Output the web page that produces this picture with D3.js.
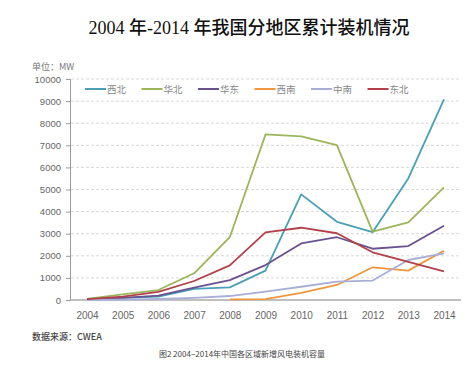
<!DOCTYPE html>
<html><head><meta charset="utf-8">
<script src="https://cdn.jsdelivr.net/npm/d3@7"></script>
<style>body{margin:0;background:#fff}svg{display:block}</style>
</head><body>
<script>
const years = [2004,2005,2006,2007,2008,2009,2010,2011,2012,2013,2014];
const yTicks = [0,1000,2000,3000,4000,5000,6000,7000,8000,9000,10000];
const seriesNames = ["西北","华北","华东","西南","中南","东北"];
const xibei   = [50,100,150,500,570,1330,4780,3540,3070,5500,9080];
const huabei  = [50,250,450,1210,2840,7490,7400,7010,3090,3510,5100];
const huadong = [30,100,200,560,900,1580,2560,2840,2320,2440,3360];
const xinan   = [null,null,null,null,30,40,320,680,1480,1330,2230];
const zhongnan= [10,20,50,100,180,380,600,830,880,1810,2110];
const dongbei = [40,150,370,860,1570,3060,3270,3020,2160,1730,1300];
const colors = ["#4a9fb6","#9cb45c","#6a5291","#f0963f","#a9aed6","#b1404a"];
const allValues = [xibei,huabei,huadong,xinan,zhongnan,dongbei];

const W=476,H=365;
const svg=d3.select("body").append("svg").attr("width",W).attr("height",H);
const x=d3.scalePoint().domain(years).range([87,444]);
const y=d3.scaleLinear().domain([0,10000]).range([300,79]);

svg.append("text").attr("x",249).attr("y",34).attr("text-anchor","middle")
  .attr("font-family","'Liberation Serif','DejaVu Serif','Noto Sans CJK SC',serif")
  .attr("font-size",18).attr("font-weight",500).attr("fill","#111")
  .text("2004 年-2014 年我国分地区累计装机情况");

svg.append("text").attr("x",32).attr("y",70).attr("font-family","'Noto Sans CJK SC',sans-serif")
  .attr("font-size",9).attr("fill","#777").text("单位：MW");

// grid
svg.append("g").selectAll("line").data(yTicks.filter(d=>d>0)).join("line")
  .attr("x1",71).attr("x2",461).attr("y1",d=>y(d)).attr("y2",d=>y(d))
  .attr("stroke","#d8d8d8").attr("stroke-dasharray","3,2").attr("stroke-width",1);

// y axis
const ya=svg.append("g").attr("transform","translate(70,0)")
  .call(d3.axisLeft(y).tickValues(yTicks).tickSize(4).tickPadding(5).tickFormat(d3.format("d")));
ya.select(".domain").attr("stroke","#999");
ya.selectAll(".tick line").attr("stroke","#999");
ya.selectAll("text").attr("font-family","'Liberation Sans',Arial,sans-serif").attr("font-size",9.5).attr("fill","#666");

// x axis
const xa=svg.append("g").attr("transform","translate(0,300)")
  .call(d3.axisBottom(x).tickSize(0).tickPadding(12));
xa.select(".domain").attr("d","M70,0H461").attr("stroke","#aaa").attr("stroke-width",1.5);
xa.selectAll("text").attr("font-family","'Liberation Sans',Arial,sans-serif").attr("font-size",10).attr("fill","#666");

// lines
const line=d3.line().defined(d=>d.v!=null).x(d=>x(d.year)).y(d=>y(d.v));
allValues.forEach((vals,i)=>{
  svg.append("path").datum(years.map((yr,j)=>({year:yr,v:vals[j]})))
    .attr("d",line).attr("fill","none").attr("stroke",colors[i]).attr("stroke-width",1.8)
    .attr("stroke-linejoin","round");
});

// legend
const lg=svg.append("g");
seriesNames.forEach((n,i)=>{
  const lx=85+i*56.5;
  lg.append("line").attr("x1",lx).attr("x2",lx+21).attr("y1",89).attr("y2",89)
    .attr("stroke",colors[i]).attr("stroke-width",2);
  lg.append("text").attr("x",lx+22).attr("y",92.5).attr("font-family","'Noto Sans CJK SC',sans-serif")
    .attr("font-size",9.5).attr("fill","#888").text(n);
});

svg.append("text").attr("x",32).attr("y",340).attr("font-family","'Noto Sans CJK SC',sans-serif")
  .attr("font-size",9).attr("font-weight",500).attr("fill","#444").text("数据来源：CWEA");
svg.append("text").attr("x",242).attr("y",357).attr("text-anchor","middle").attr("font-family","'Noto Sans CJK SC',sans-serif")
  .attr("font-size",8).attr("fill","#444").text("图2 2004−2014年中国各区域新增风电装机容量");
</script>
</body></html>
